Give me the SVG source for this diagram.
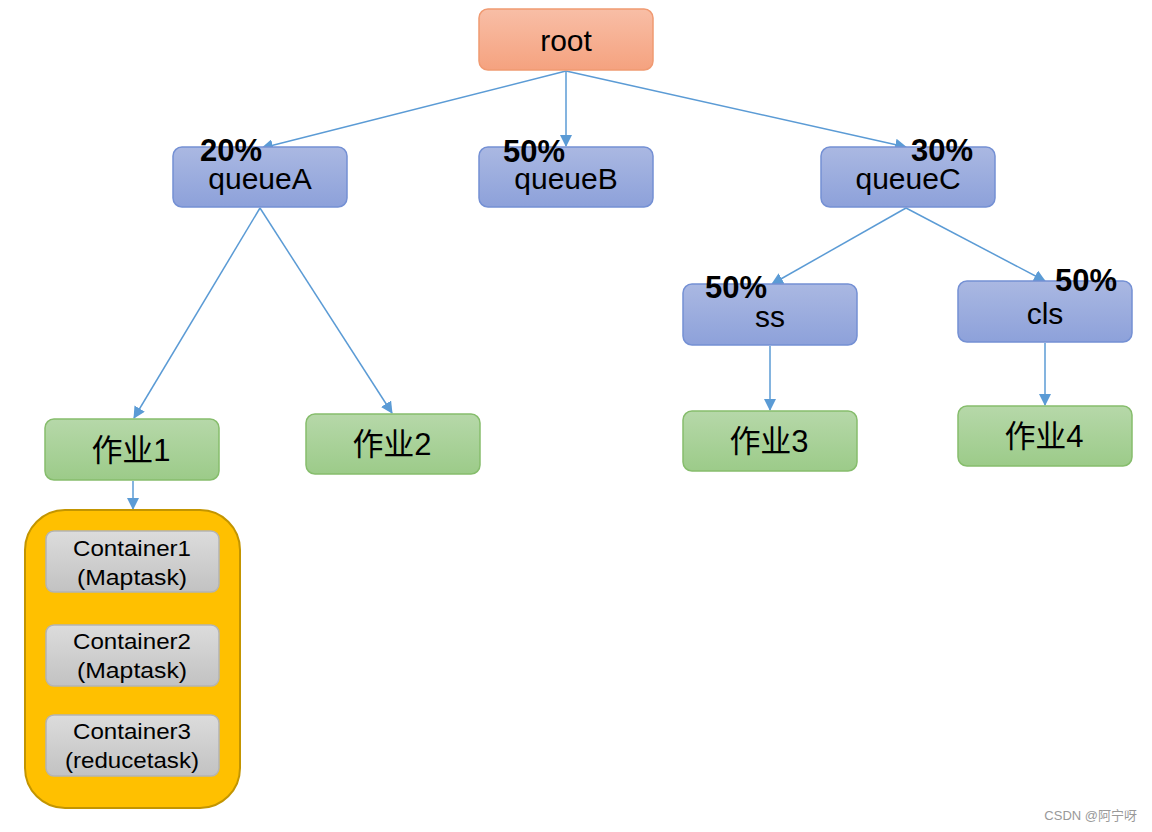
<svg xmlns="http://www.w3.org/2000/svg" width="1152" height="832" viewBox="0 0 1152 832">
<defs>
<linearGradient id="gOrange" x1="0" y1="0" x2="0" y2="1"><stop offset="0" stop-color="#f8bea6"/><stop offset="1" stop-color="#f5a27f"/></linearGradient>
<linearGradient id="gBlue" x1="0" y1="0" x2="0" y2="1"><stop offset="0" stop-color="#aab8e2"/><stop offset="1" stop-color="#8da1da"/></linearGradient>
<linearGradient id="gGreen" x1="0" y1="0" x2="0" y2="1"><stop offset="0" stop-color="#b6d8a9"/><stop offset="1" stop-color="#9ccb89"/></linearGradient>
<linearGradient id="gGray" x1="0" y1="0" x2="0" y2="1"><stop offset="0" stop-color="#dcdcdc"/><stop offset="1" stop-color="#c2c2c2"/></linearGradient>
<marker id="arr" viewBox="0 0 12 12" refX="11" refY="6" markerWidth="12" markerHeight="12" markerUnits="userSpaceOnUse" orient="auto"><path d="M0,0 L12,6 L0,12 z" fill="#5b9bd5"/></marker>
</defs>
<style>
.orange{fill:url(#gOrange);stroke:#f09a72;stroke-width:1.5}
.blue{fill:url(#gBlue);stroke:#7490d4;stroke-width:1.5}
.green{fill:url(#gGreen);stroke:#86bd6c;stroke-width:1.5}
.gray{fill:url(#gGray);stroke:#b4b4b4;stroke-width:1.5}
.t{font-family:"Liberation Sans",Arial,"Noto Sans CJK SC",sans-serif;fill:#000;text-anchor:middle}
.big{font-size:30px}
.cjk{font-size:31px}
.pct{font-family:"Liberation Sans",Arial,sans-serif;font-weight:bold;font-size:31px;fill:#000}
.ct{font-size:22px}
.conn line{stroke:#5b9bd5;stroke-width:1.5;marker-end:url(#arr)}
</style>
<rect width="1152" height="832" fill="#fff"/>
<g class="conn">
<line x1="566" y1="71" x2="262" y2="148"/>
<line x1="566" y1="71" x2="566" y2="146"/>
<line x1="566" y1="71" x2="906" y2="147"/>
<line x1="260" y1="208" x2="134" y2="418"/>
<line x1="260" y1="208" x2="392" y2="413"/>
<line x1="906" y1="208" x2="772" y2="284"/>
<line x1="906" y1="208" x2="1045" y2="281"/>
<line x1="770" y1="346" x2="770" y2="410"/>
<line x1="1045" y1="343" x2="1045" y2="405"/>
<line x1="133" y1="481" x2="133" y2="509"/>
</g>
<g id="root"><rect class="orange" x="479" y="9" width="174" height="61" rx="9"/><text class="t big" x="566" y="51">root</text></g>
<g id="queueA"><rect class="blue" x="173" y="147" width="174" height="60" rx="9"/><text class="t big" x="260" y="189">queueA</text><text class="pct" x="200" y="161">20%</text></g>
<g id="queueB"><rect class="blue" x="479" y="147" width="174" height="60" rx="9"/><text class="t big" x="566" y="189">queueB</text><text class="pct" x="503" y="162">50%</text></g>
<g id="queueC"><rect class="blue" x="821" y="147" width="174" height="60" rx="9"/><text class="t big" x="908" y="189">queueC</text><text class="pct" x="911" y="161">30%</text></g>
<g id="ss"><rect class="blue" x="683" y="284" width="174" height="61" rx="9"/><text class="t big" x="770" y="327">ss</text><text class="pct" x="705" y="298">50%</text></g>
<g id="cls"><rect class="blue" x="958" y="281" width="174" height="61" rx="9"/><text class="t big" x="1045" y="324">cls</text><text class="pct" x="1055" y="291">50%</text></g>
<g id="job1"><rect class="green" x="45" y="419" width="174" height="61" rx="9"/><text class="t cjk" x="131" y="461">作业1</text></g>
<g id="job2"><rect class="green" x="306" y="414" width="174" height="60" rx="9"/><text class="t cjk" x="392" y="455">作业2</text></g>
<g id="job3"><rect class="green" x="683" y="411" width="174" height="60" rx="9"/><text class="t cjk" x="769" y="452">作业3</text></g>
<g id="job4"><rect class="green" x="958" y="406" width="174" height="60" rx="9"/><text class="t cjk" x="1044" y="447">作业4</text></g>
<g id="containerGroup"><rect x="25" y="510" width="215" height="298" rx="40" fill="#ffc000" stroke="#c39500" stroke-width="2"/></g>
<g id="c1"><rect class="gray" x="46" y="531" width="173" height="61" rx="8"/><text class="t ct" x="132" y="556" textLength="118" lengthAdjust="spacingAndGlyphs">Container1</text><text class="t ct" x="132" y="585" textLength="110" lengthAdjust="spacingAndGlyphs">(Maptask)</text></g>
<g id="c2"><rect class="gray" x="46" y="625" width="173" height="61" rx="8"/><text class="t ct" x="132" y="649" textLength="118" lengthAdjust="spacingAndGlyphs">Container2</text><text class="t ct" x="132" y="678" textLength="110" lengthAdjust="spacingAndGlyphs">(Maptask)</text></g>
<g id="c3"><rect class="gray" x="46" y="715" width="173" height="61" rx="8"/><text class="t ct" x="132" y="739" textLength="118" lengthAdjust="spacingAndGlyphs">Container3</text><text class="t ct" x="132" y="768" textLength="134" lengthAdjust="spacingAndGlyphs">(reducetask)</text></g>
<text x="1137" y="820" font-family="'Liberation Sans','Noto Sans CJK SC',sans-serif" font-size="13" fill="#999" text-anchor="end">CSDN @阿宁呀</text>
</svg>
